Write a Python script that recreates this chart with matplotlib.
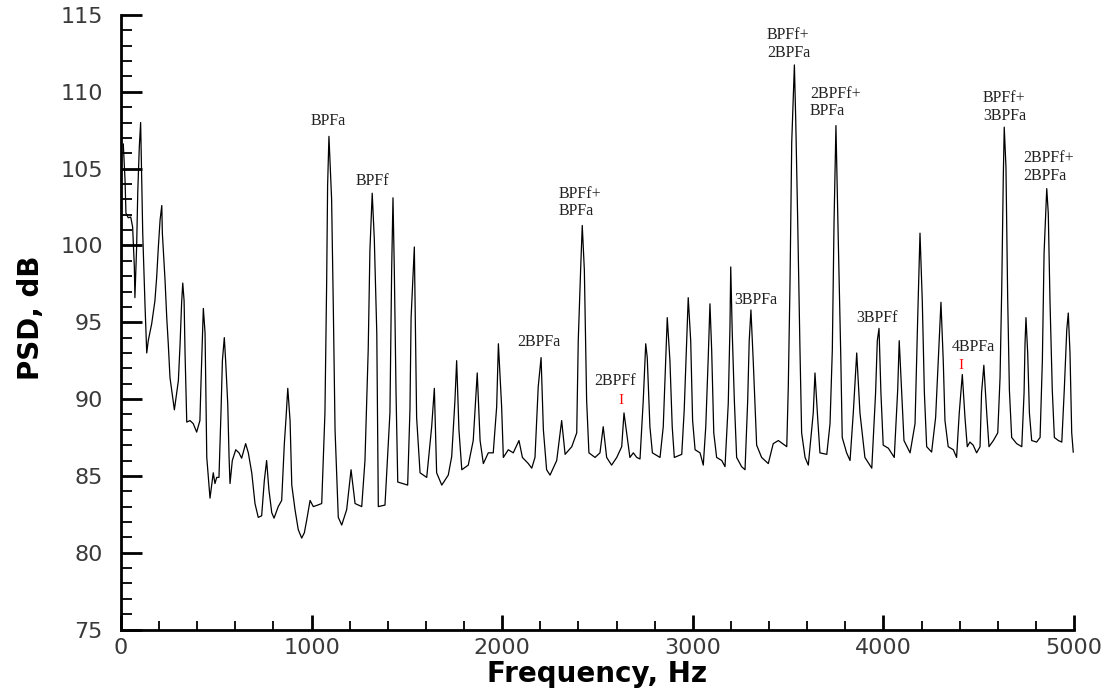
import matplotlib.pyplot as plt
from matplotlib.ticker import MultipleLocator

# PSD spectrum (Hz, dB)
freq = [
    12, 21, 26, 38, 51, 61, 70, 73, 82, 88, 96, 103, 114, 126, 135,
    143, 161, 178, 187, 196, 205, 214, 217, 231, 240, 248, 257, 280, 292,
    301, 310, 318, 324, 331, 336, 345, 362, 379, 397, 414, 420, 432, 441,
    450, 467, 484, 493, 502, 514, 525, 532, 542, 549, 560, 567, 572, 584,
    602, 619, 633, 654, 668, 686, 703, 720, 738, 752, 764, 776, 791, 803, 825,
    843, 857, 866, 875, 887, 896, 913, 930, 948, 962, 974, 992, 1009, 1032,
    1053, 1070, 1079, 1084, 1091, 1105, 1114, 1123, 1140, 1158, 1184, 1207,
    1228, 1263, 1280, 1297, 1306, 1318, 1329, 1342, 1350, 1385, 1411, 1420,
    1427, 1434, 1443, 1452, 1504, 1516, 1522, 1539, 1551, 1569, 1604, 1630,
    1644, 1656, 1683, 1717, 1735, 1752, 1761, 1773, 1788, 1822, 1848, 1869,
    1884, 1901, 1927, 1953, 1971, 1980, 1997, 2006, 2032, 2058, 2088, 2106,
    2137, 2155, 2172, 2189, 2204, 2216, 2233, 2251, 2286, 2312, 2330, 2365,
    2391, 2399, 2412, 2420, 2431, 2443, 2455, 2487,
    2513, 2530, 2548, 2574, 2601, 2627, 2639, 2653, 2670, 2688, 2706, 2723,
    2740, 2753, 2761, 2775, 2788, 2828, 2845, 2858, 2866, 2880, 2892, 2903,
    2942, 2955, 2968, 2976, 2989, 2999, 3012, 3038, 3055, 3068, 3081, 3090,
    3099, 3110, 3125, 3152, 3169, 3186, 3195, 3199, 3207, 3218, 3230, 3256,
    3274, 3288, 3296, 3305, 3317, 3335, 3361, 3396, 3422, 3449, 3493, 3501,
    3510, 3519, 3533, 3540, 3550, 3562, 3571, 3589, 3606, 3632, 3641, 3655,
    3667, 3703, 3720, 3732, 3741, 3751, 3763, 3776, 3784, 3807, 3825, 3842,
    3860, 3877, 3903, 3939, 3959, 3968, 3977, 3987, 3999, 4026, 4057, 4075,
    4083, 4096, 4108, 4140, 4166, 4180, 4192, 4204, 4215, 4227, 4253, 4274,
    4288, 4302, 4314, 4323, 4340, 4367, 4384, 4398, 4414, 4428, 4440, 4454,
    4471, 4489, 4507, 4515, 4527, 4542, 4554, 4577, 4600, 4612, 4621, 4629,
    4634, 4643, 4652, 4661, 4673, 4699, 4726, 4738, 4743, 4748, 4757, 4766,
    4778, 4804, 4822, 4834, 4843, 4857, 4865, 4874, 4886, 4897, 4918, 4936,
    4949, 4962, 4970, 4979, 4988, 4996,
]
psd = [
    106.6, 104.3, 102.1, 101.8, 101.85, 101.2, 98.6, 96.6, 99.9, 103.5, 106.4, 108.0, 100.8, 96.1, 93.0,
    93.8, 94.9, 96.4, 97.9, 99.9, 101.65, 102.6, 100.8, 97.75, 95.3, 93.6, 91.4, 89.3, 90.4,
    91.2, 93.6, 96.25, 97.55, 96.4, 93.0, 88.5, 88.6, 88.4, 87.85, 88.6, 91.2, 95.9, 94.3,
    86.2, 83.55, 85.2, 84.5, 84.9, 84.9, 89.3, 92.5, 94.0, 92.5, 89.7, 86.2, 84.5, 86.0,
    86.7, 86.5, 86.15, 87.1, 86.5, 85.2, 83.2, 82.3, 82.4, 84.7, 86.0, 84.1, 82.6, 82.25, 83.0,
    83.4, 87.1, 88.8, 90.7, 88.6, 84.4, 82.8, 81.5, 80.95, 81.3, 82.1, 83.4, 83.0, 83.1,
    83.2, 89.1, 97.6, 103.9, 107.1, 103.0, 95.9, 88.0, 82.3, 81.8, 82.8, 85.4,
    83.2, 83.0, 86.0, 93.2, 99.7, 103.4, 100.4, 94.3, 83.0, 83.1, 89.1, 98.4,
    103.1, 98.4, 90.4, 84.6, 84.4, 89.3, 95.3, 99.9, 88.8, 85.2, 84.9, 88.2,
    90.7, 85.2, 84.4, 85.05, 86.25, 89.9, 92.5, 88.0, 85.4, 85.7, 87.3, 91.7,
    87.3, 85.8, 86.5, 86.5, 89.5, 93.6, 89.5, 86.2, 86.7, 86.5, 87.3, 86.2,
    85.8, 85.5, 86.2, 90.8, 92.7, 88.0, 85.4, 85.05, 86.0, 88.6, 86.4, 86.9,
    87.8, 93.8, 98.6, 101.3, 98.4, 89.9, 86.5, 86.2,
    86.5, 88.2, 86.2, 85.7, 86.2, 86.9, 89.1, 87.8, 86.2, 86.5, 86.2, 86.1,
    89.9, 93.6, 92.7, 88.2, 86.5, 86.2, 88.2, 92.5, 95.3, 92.5, 88.2, 86.2,
    86.4, 89.3, 93.8, 96.6, 93.8, 88.6, 86.7, 86.5, 85.7, 88.2, 92.7, 96.2,
    93.2, 87.8, 86.2, 86.0, 85.6, 89.7, 94.7, 98.6, 94.3, 89.9, 86.2, 85.6,
    85.4, 89.9, 93.8, 95.8, 92.5, 87.0, 86.2, 85.8, 87.1, 87.3, 86.9, 90.8,
    97.55, 106.7, 111.75, 108.2, 101.85, 93.4, 87.8, 86.2, 85.7, 89.1, 91.7, 88.8,
    86.5, 86.4, 88.4, 93.2, 101.5, 107.8, 100.5, 93.0, 87.5, 86.5, 86.0, 89.1,
    93.0, 89.1, 86.2, 85.5, 90.4, 93.8, 94.6, 90.4, 87.0, 86.8, 86.2, 90.6,
    93.8, 90.4, 87.3, 86.5, 88.4, 95.3, 100.8, 96.4, 90.4, 86.9, 86.55, 88.8,
    92.5, 96.3, 92.5, 88.6, 86.9, 86.7, 86.2, 89.1, 91.6, 88.8, 86.9, 87.2,
    87.0, 86.5, 86.9, 90.4, 92.2, 89.1, 86.9, 87.3, 87.8, 91.4, 97.3, 104.45,
    107.7, 105.1, 96.6, 90.6, 87.5, 87.1, 86.9, 90.4, 93.6, 95.3, 93.0, 89.1,
    87.3, 87.2, 87.5, 92.5, 99.5, 103.7, 102.1, 96.4, 90.6, 87.5, 87.3, 87.2,
    90.6, 94.5, 95.6, 93.0, 87.8, 86.55,
]

peak_names = ["BPFa", "BPFf", "BPFf+\nBPFa", "2BPFa", "2BPFf", "3BPFa",
              "BPFf+\n2BPFa", "2BPFf+\nBPFa", "3BPFf", "4BPFa",
              "BPFf+\n3BPFa", "2BPFf+\n2BPFa"]
marker_freq = [2623, 4405]
marker_db = [89.9, 92.2]

fig = plt.figure(figsize=(11.17, 6.92), dpi=100)
ax = fig.add_axes([121 / 1117, 1 - 629.5 / 692, 953 / 1117, 614.5 / 692])

ax.plot(freq, psd, color="black", lw=0.9)

ax.set_xlim(0, 5000)
ax.set_ylim(75, 115)
ax.xaxis.set_major_locator(MultipleLocator(1000))
ax.xaxis.set_minor_locator(MultipleLocator(200))
ax.yaxis.set_major_locator(MultipleLocator(5))
ax.yaxis.set_minor_locator(MultipleLocator(1))

for side in ["top", "right"]:
    ax.spines[side].set_visible(False)
for side in ["left", "bottom"]:
    ax.spines[side].set_linewidth(2.0)

ax.tick_params(axis="x", which="major", direction="in", length=11, width=2, pad=6)
ax.tick_params(axis="x", which="minor", direction="in", length=6.5, width=1.3)
ax.tick_params(axis="y", which="major", direction="in", length=15, width=2, pad=13)
ax.tick_params(axis="y", which="minor", direction="in", length=8, width=1.3)
for lab in ax.get_xticklabels() + ax.get_yticklabels():
    lab.set_fontfamily("DejaVu Sans")
    lab.set_fontsize(16)
    lab.set_color("#3a3a3a")

ax.set_xlabel("Frequency, Hz", fontsize=20, fontweight="bold", family="DejaVu Sans")
ax.set_ylabel("PSD, dB", fontsize=20, fontweight="bold", family="DejaVu Sans")
ax.xaxis.set_label_coords(0.5, -0.049)
ax.yaxis.set_label_coords(-0.080, 0.507)

# peak annotations: (x, y, ha)
spots = [(1086, 108.1, "center"), (1317, 104.2, "center"), (2298, 102.8, "left"),
         (2193, 93.7, "center"), (2592, 91.2, "center"), (3332, 96.45, "center"),
         (3389, 113.1, "left"), (3615, 109.3, "left"), (3967, 95.3, "center"),
         (4470, 93.4, "center"), (4523, 109.0, "left"), (4732, 105.1, "left")]
for name, (x, y, ha) in zip(peak_names, spots):
    ax.text(x, y, name, ha=ha, va="center", family="Liberation Serif",
            fontsize=11.5, color="#222222", linespacing=1.15)
for x, y in zip(marker_freq, marker_db):
    ax.text(x, y, "I", ha="center", va="center", family="Liberation Serif",
            fontsize=11, color="red")

fig.savefig("out.png", dpi=100)
